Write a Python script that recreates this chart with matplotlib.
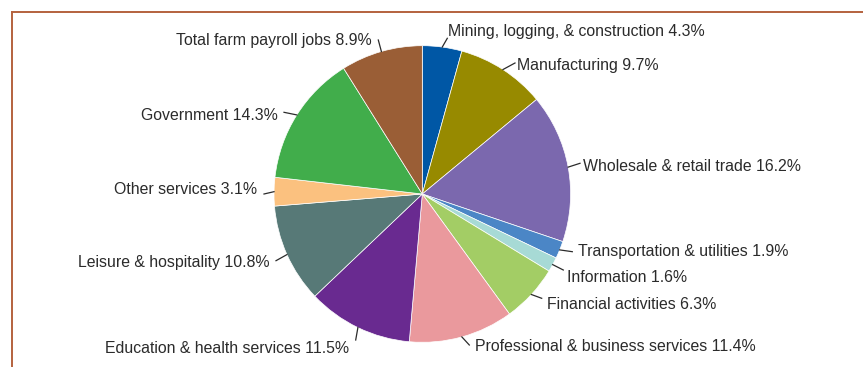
import numpy as np
import matplotlib
matplotlib.use("Agg")
import matplotlib.pyplot as plt
from matplotlib.lines import Line2D

# Share of total employment by sector (percent), clockwise from 12 o'clock
sectors = [
    "Mining, logging, & construction",
    "Manufacturing",
    "Wholesale & retail trade",
    "Transportation & utilities",
    "Information",
    "Financial activities",
    "Professional & business services",
    "Education & health services",
    "Leisure & hospitality",
    "Other services",
    "Government",
    "Total farm payroll jobs",
]
shares = [4.3, 9.7, 16.2, 1.9, 1.6, 6.3, 11.4, 11.5, 10.8, 3.1, 14.3, 8.9]
colors = [
    "#0057A5", "#978A00", "#7B68AE", "#4B86C6", "#A7DAD5", "#A3CD65",
    "#EA999D", "#692A90", "#577977", "#FBC17F", "#41AD4B", "#9A5E36",
]

# Layout in pixel units (x from left, y from top)
W, H = 863, 367
CX, CY, R = 422.3, 194.0, 148.3
# outer end of each leader line
leader_end = [
    (447.3, 38.3), (515.0, 63.0), (580.0, 163.3), (572.3, 251.7),
    (563.3, 270.0), (541.7, 298.3), (469.3, 345.0), (355.7, 340.0),
    (276.0, 260.7), (264.0, 194.0), (284.0, 112.3), (378.3, 40.0),
]
# text anchor (baseline) and horizontal alignment
text_pos = [
    (448.0, 35.7, "left"), (517.0, 70.0, "left"), (583.0, 170.7, "left"),
    (578.0, 256.0, "left"), (566.5, 281.7, "left"), (546.5, 309.3, "left"),
    (475.0, 351.0, "left"), (349.5, 353.3, "right"), (270.0, 266.7, "right"),
    (257.0, 194.0, "right"), (277.5, 120.0, "right"), (372.0, 45.0, "right"),
]

plt.rcParams["font.family"] = ["Liberation Sans", "DejaVu Sans"]
TEXT = "#2B2B2B"
FRAME = "#B4623E"

fig = plt.figure(figsize=(W / 100, H / 100), dpi=100)
ax = fig.add_axes([0, 0, 1, 1])

def fy(y):
    return H - y

ax.pie(shares, colors=colors, startangle=90, counterclock=False,
       center=(CX, fy(CY)), radius=R,
       wedgeprops=dict(edgecolor="white", linewidth=0.5))
ax.set_xlim(0, W)
ax.set_ylim(0, H)
ax.set_aspect("auto")
ax.axis("off")

# leader lines and labels
cum = np.cumsum([0] + shares[:-1])
for i, (name, val) in enumerate(zip(sectors, shares)):
    mid = np.deg2rad(90 - (cum[i] + val / 2) * 3.6)
    x0 = CX + R * np.cos(mid)
    y0 = fy(CY) + R * np.sin(mid)
    x1, y1 = leader_end[i]
    ax.add_line(Line2D([x0, x1], [y0, fy(y1)], color=TEXT, lw=0.9))
    tx, ty, ha = text_pos[i]
    ax.text(tx, fy(ty), f"{name} {val}%", ha=ha, va="baseline",
            fontsize=11.45, color=TEXT)

# frame rules along the top and left
ax.add_line(Line2D([12, W], [fy(12), fy(12)], color=FRAME, lw=1.4))
ax.add_line(Line2D([12, 12], [fy(12), 0], color=FRAME, lw=1.4))

fig.savefig("out.png", dpi=100, facecolor="white")
